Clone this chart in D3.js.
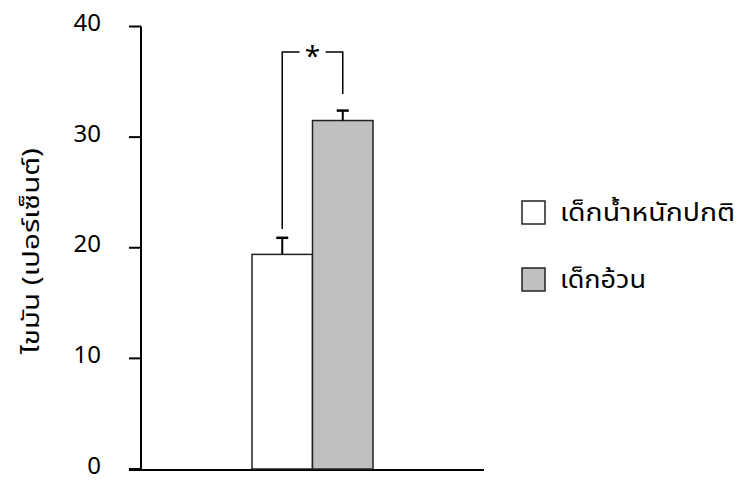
<!DOCTYPE html>
<html>
<head>
<meta charset="utf-8">
<script src="https://cdn.jsdelivr.net/npm/d3@7"></script>
<style>
  body { margin: 0; background: #fff; }
  text { font-family: "Noto Sans", "Noto Sans Thai", sans-serif; fill: #000; }
</style>
</head>
<body>
<svg id="chart"></svg>
<script>
const groups = ["เด็กน้ำหนักปกติ", "เด็กอ้วน"];
const values = [19.4, 31.5];
const errors = [1.5, 0.9];
const fills = ["#ffffff", "#c0c0c0"];
const yTicks = [0, 10, 20, 30, 40];
const yLabel = "ไขมัน (เปอร์เซ็นต์)";

const width = 739, height = 480;
const svg = d3.select("#chart").attr("width", width).attr("height", height);

const y = d3.scaleLinear().domain([0, 40]).range([469, 26.5]);
// bars sit in the middle of a wide band
const x = d3.scaleBand().domain(groups).range([252, 373]).paddingInner(0);

// axes
svg.append("line").attr("x1", 141).attr("x2", 141).attr("y1", y(40)).attr("y2", 470)
  .attr("stroke", "#000").attr("stroke-width", 2);
svg.append("line").attr("x1", 129).attr("x2", 484).attr("y1", 470).attr("y2", 470)
  .attr("stroke", "#000").attr("stroke-width", 2);

const tick = svg.selectAll(".tick").data(yTicks).enter().append("g").attr("class", "tick");
tick.append("line").attr("x1", 129).attr("x2", 141)
  .attr("y1", d => y(d)).attr("y2", d => y(d))
  .attr("stroke", "#000").attr("stroke-width", 2);
tick.append("text").attr("x", 101).attr("y", d => y(d) - 4).attr("dy", "0.36em")
  .attr("text-anchor", "end").attr("font-size", 24).text(d => d);

svg.append("text")
  .attr("transform", "translate(31,251) rotate(-90)")
  .attr("text-anchor", "middle").attr("dy", "0.35em").attr("font-size", 23)
  .attr("textLength", 206).attr("lengthAdjust", "spacingAndGlyphs")
  .text(yLabel);

// bars
svg.selectAll(".bar").data(groups).enter().append("rect")
  .attr("x", d => x(d)).attr("width", x.bandwidth())
  .attr("y", (d, i) => y(values[i])).attr("height", (d, i) => y(0) - y(values[i]))
  .attr("fill", (d, i) => fills[i]).attr("stroke", "#222").attr("stroke-width", 1.5);

// error bars (upper only)
groups.forEach((g, i) => {
  const cx = x(g) + x.bandwidth() / 2;
  svg.append("line").attr("x1", cx).attr("x2", cx)
    .attr("y1", y(values[i])).attr("y2", y(values[i] + errors[i]))
    .attr("stroke", "#000").attr("stroke-width", 2);
  svg.append("line").attr("x1", cx - 6).attr("x2", cx + 6)
    .attr("y1", y(values[i] + errors[i])).attr("y2", y(values[i] + errors[i]))
    .attr("stroke", "#000").attr("stroke-width", 2.5);
});

// significance bracket
const c0 = x(groups[0]) + x.bandwidth() / 2, c1 = x(groups[1]) + x.bandwidth() / 2;
const topY = y(37.7), midX = (c0 + c1) / 2;
const br = d3.path();
br.moveTo(c0, y(21.7)); br.lineTo(c0, topY); br.lineTo(midX - 13, topY);
br.moveTo(midX + 13, topY); br.lineTo(c1, topY); br.lineTo(c1, y(33.9));
svg.append("path").attr("d", br.toString()).attr("fill", "none")
  .attr("stroke", "#000").attr("stroke-width", 1.5);
svg.append("text").attr("x", midX).attr("y", topY + 14).attr("text-anchor", "middle")
  .attr("font-size", 28).text("*");

// legend
const legLen = [175, 86];
const leg = svg.selectAll(".leg").data(groups).enter().append("g")
  .attr("transform", (d, i) => `translate(522,${201 + i * 67})`);
leg.append("rect").attr("width", 23).attr("height", 23)
  .attr("fill", (d, i) => fills[i]).attr("stroke", "#222").attr("stroke-width", 1.5);
leg.append("text").attr("x", 38).attr("y", 12).attr("dy", "0.35em")
  .attr("font-size", 24).attr("textLength", (d, i) => legLen[i])
  .attr("lengthAdjust", "spacingAndGlyphs").text(d => d);
</script>
</body>
</html>
